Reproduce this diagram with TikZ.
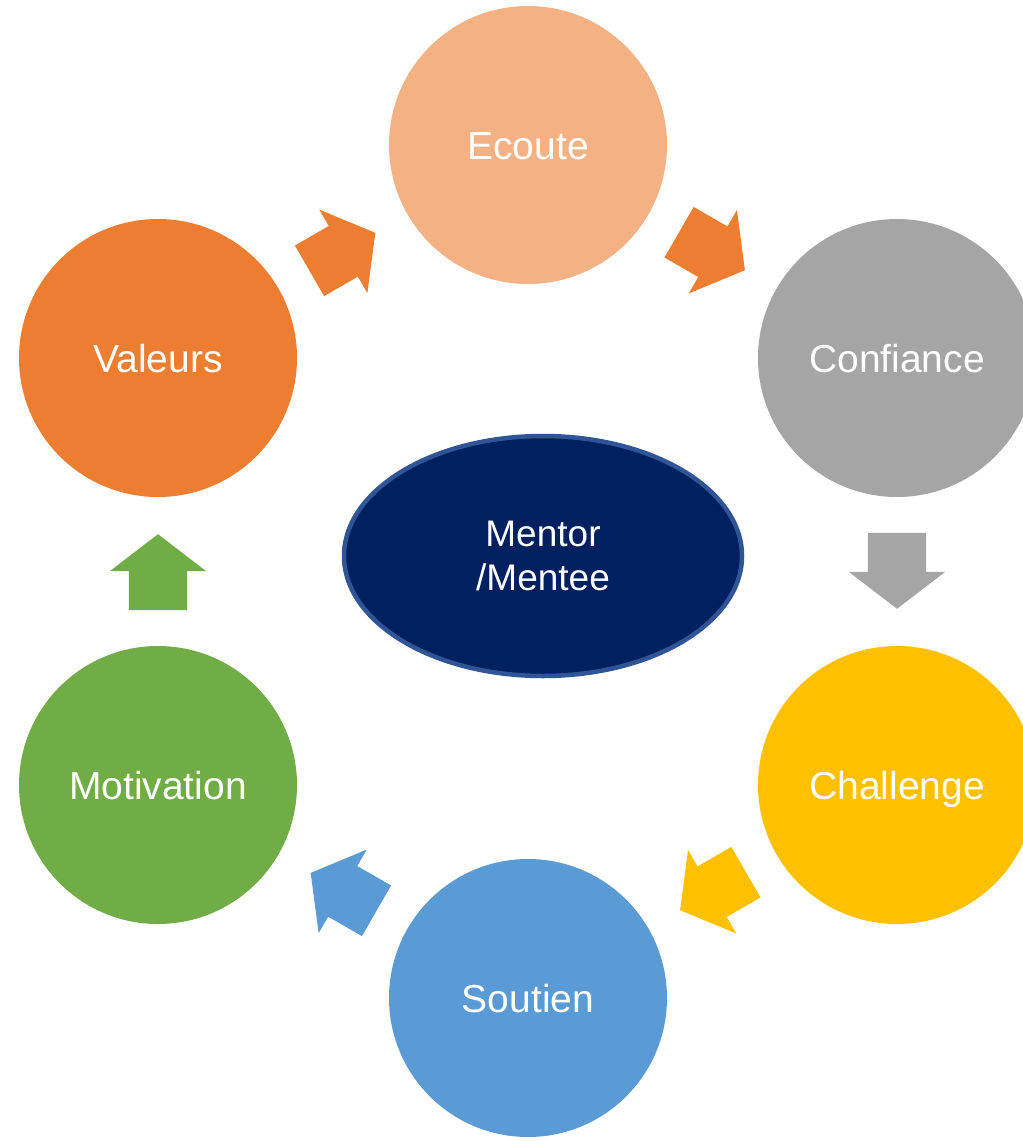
\documentclass[tikz,border=0pt]{standalone}
\usepackage{fontspec}
\setmainfont{Liberation Sans}
\usetikzlibrary{shapes.geometric, shapes.arrows}

\definecolor{ecoutecol}{HTML}{F4B183}
\definecolor{confiancecol}{HTML}{A5A5A5}
\definecolor{challengecol}{HTML}{FFC000}
\definecolor{soutiencol}{HTML}{5B9BD5}
\definecolor{motivationcol}{HTML}{70AD47}
\definecolor{valeurscol}{HTML}{ED7D31}
\definecolor{mentorcol}{HTML}{002060}
\definecolor{mentorline}{HTML}{2F5597}

\begin{document}
\begin{tikzpicture}[x=1pt, y=-1pt,
    stage/.style={circle, fill=#1, minimum size=278pt, inner sep=0pt, text=white,
        font=\fontsize{39}{47}\selectfont, text height=28pt, text depth=0pt},
    blockarrow/.style={single arrow, fill=#1, minimum height=76pt, minimum width=96pt,
        single arrow head extend=19pt, single arrow tip angle=105,
        inner xsep=0pt, inner ysep=29pt, pos=0.42, sloped, allow upside down}]
    % Page frame
    \useasboundingbox (0,0) rectangle (1023,1141);
    \clip (0,0) rectangle (1023,1141);

    % Stages of the cycle
    \node[stage=ecoutecol] (ecoute) at (528,145) {Ecoute};
    \node[stage=confiancecol] (confiance) at (897,358) {Confiance};
    \node[stage=challengecol] (challenge) at (897,785) {Challenge};
    \node[stage=soutiencol] (soutien) at (528,998) {Soutien};
    \node[stage=motivationcol] (motivation) at (158,785) {Motivation};
    \node[stage=valeurscol] (valeurs) at (158,358) {Valeurs};

    % Centre
    \node[ellipse, fill=mentorcol, draw=mentorline, line width=4.5pt, inner sep=0pt,
        minimum width=398pt, minimum height=240pt, text=white, align=center,
        font=\fontsize{37}{44}\selectfont] (mentor) at (543,556) {Mentor\\/Mentee};

    % Arrows between stages
    \foreach \a/\b/\c in {valeurs/ecoute/valeurscol, ecoute/confiance/valeurscol,
        confiance/challenge/confiancecol, challenge/soutien/challengecol,
        soutien/motivation/soutiencol, motivation/valeurs/motivationcol}
        \path (\a) -- (\b) node[blockarrow=\c] {};
\end{tikzpicture}
\end{document}
